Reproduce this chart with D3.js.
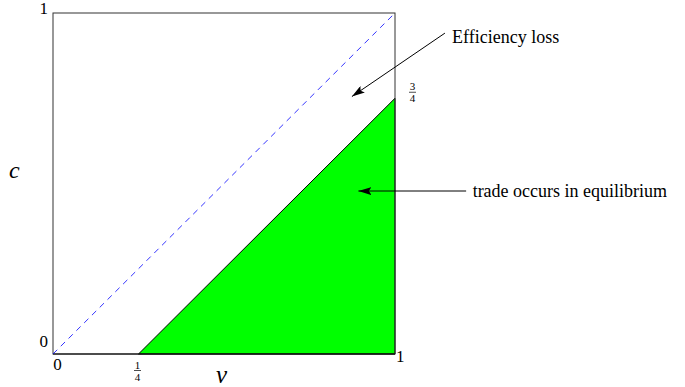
<!DOCTYPE html>
<html><head><meta charset="utf-8">
<script src="https://cdn.jsdelivr.net/npm/d3@7"></script>
<style>
html,body{margin:0;padding:0;background:#fff;}
text{font-family:"Liberation Serif","Times New Roman",serif;}
</style></head>
<body>
<script>
// Unit square: valuation v on x, cost c on y
const domain = [0, 1];
// Trade region: v - c >= 1/4
const tradeRegion = [[0.25, 0], [1, 0], [1, 0.75]];
// 45-degree efficiency line
const diagonal = [[0, 0], [1, 1]];
// Tick labels: [value, numerator, denominator]
const xTicks = [[0, "0", null], [0.25, "1", "4"], [1, "1", null]];
const yTicks = [[0, "0", null], [1, "1", null]];
const fracMarks = [[1, 0.75, "3", "4"]];
// Annotations: text, text anchor point (data), arrow tail (data), arrow tip (data)
const annotations = [
  {text: "Efficiency loss", tx: 1.167, ty: 0.913, from: [1.146, 0.941], to: [0.874, 0.755]},
  {text: "trade occurs in equilibrium", tx: 1.227, ty: 0.460, from: [1.208, 0.478], to: [0.893, 0.478]}
];

const W = 685, H = 387;
const x = d3.scaleLinear().domain(domain).range([53, 395]);
const y = d3.scaleLinear().domain(domain).range([354, 13]);

const svg = d3.select("body").append("svg").attr("width", W).attr("height", H);

svg.append("defs").append("marker")
  .attr("id", "ah").attr("viewBox", "0 0 13 8").attr("refX", 13).attr("refY", 4)
  .attr("markerWidth", 13).attr("markerHeight", 8).attr("markerUnits", "userSpaceOnUse")
  .attr("orient", "auto")
  .append("path").attr("d", "M0,0L13,4L0,8L2.5,4Z").attr("fill", "#000");

const line = d3.line().x(d => x(d[0])).y(d => y(d[1]));

// trade region
svg.append("path").datum(tradeRegion)
  .attr("d", line.curve(d3.curveLinearClosed))
  .attr("fill", "#00ff00").attr("stroke", "#000").attr("stroke-width", 1);
line.curve(d3.curveLinear);

// square frame
svg.append("rect")
  .attr("x", x(0)).attr("y", y(1))
  .attr("width", x(1) - x(0)).attr("height", y(0) - y(1))
  .attr("fill", "none").attr("stroke", "#333").attr("stroke-width", 1);
svg.append("line").attr("x1", x(0)).attr("x2", x(1)).attr("y1", y(0)).attr("y2", y(0))
  .attr("stroke", "#000").attr("stroke-width", 1.2);

// diagonal
svg.append("path").datum(diagonal).attr("d", line)
  .attr("fill", "none").attr("stroke", "#0000ff").attr("stroke-width", 0.8)
  .attr("stroke-dasharray", "6,5");

function txt(px, py, s, size) {
  return svg.append("text").attr("x", px).attr("y", py)
    .attr("font-size", size).text(s);
}
const fs = 17;
function frac(px, py, num, den) {
  const g = svg.append("g").attr("transform", `translate(${px},${py})`);
  g.append("text").attr("x", 0).attr("y", -2).attr("text-anchor", "middle")
    .attr("font-size", 11).text(num);
  g.append("line").attr("x1", -3.5).attr("x2", 3.5).attr("y1", 0).attr("y2", 0)
    .attr("stroke", "#000").attr("stroke-width", 0.7);
  g.append("text").attr("x", 0).attr("y", 10).attr("text-anchor", "middle")
    .attr("font-size", 11).text(den);
}

// x tick labels
xTicks.forEach(([v, n, d]) => {
  if (d) frac(x(v) - 1, 370.5, n, d);
  else if (v === 1) txt(x(v) + 1, 362, n, fs);
  else txt(x(v) + 4.5, 370, n, fs).attr("text-anchor", "middle");
});
// y tick labels
yTicks.forEach(([v, n]) => {
  txt(x(0) - 5, y(v) - (v === 1 ? -1 : 7), n, fs).attr("text-anchor", "end");
});
fracMarks.forEach(([vx, vy, n, d]) => frac(x(vx) + 17.5, y(vy) - 6, n, d));

// axis titles
txt(216, 383, "v", 25).attr("font-style", "italic");
txt(9, 178, "c", 24).attr("font-style", "italic");

// annotations
annotations.forEach(a => {
  svg.append("line")
    .attr("x1", x(a.from[0])).attr("y1", y(a.from[1]))
    .attr("x2", x(a.to[0])).attr("y2", y(a.to[1]))
    .attr("stroke", "#000").attr("stroke-width", 1).attr("marker-end", "url(#ah)");
  txt(x(a.tx), y(a.ty), a.text, 18);
});
</script>
</body></html>
